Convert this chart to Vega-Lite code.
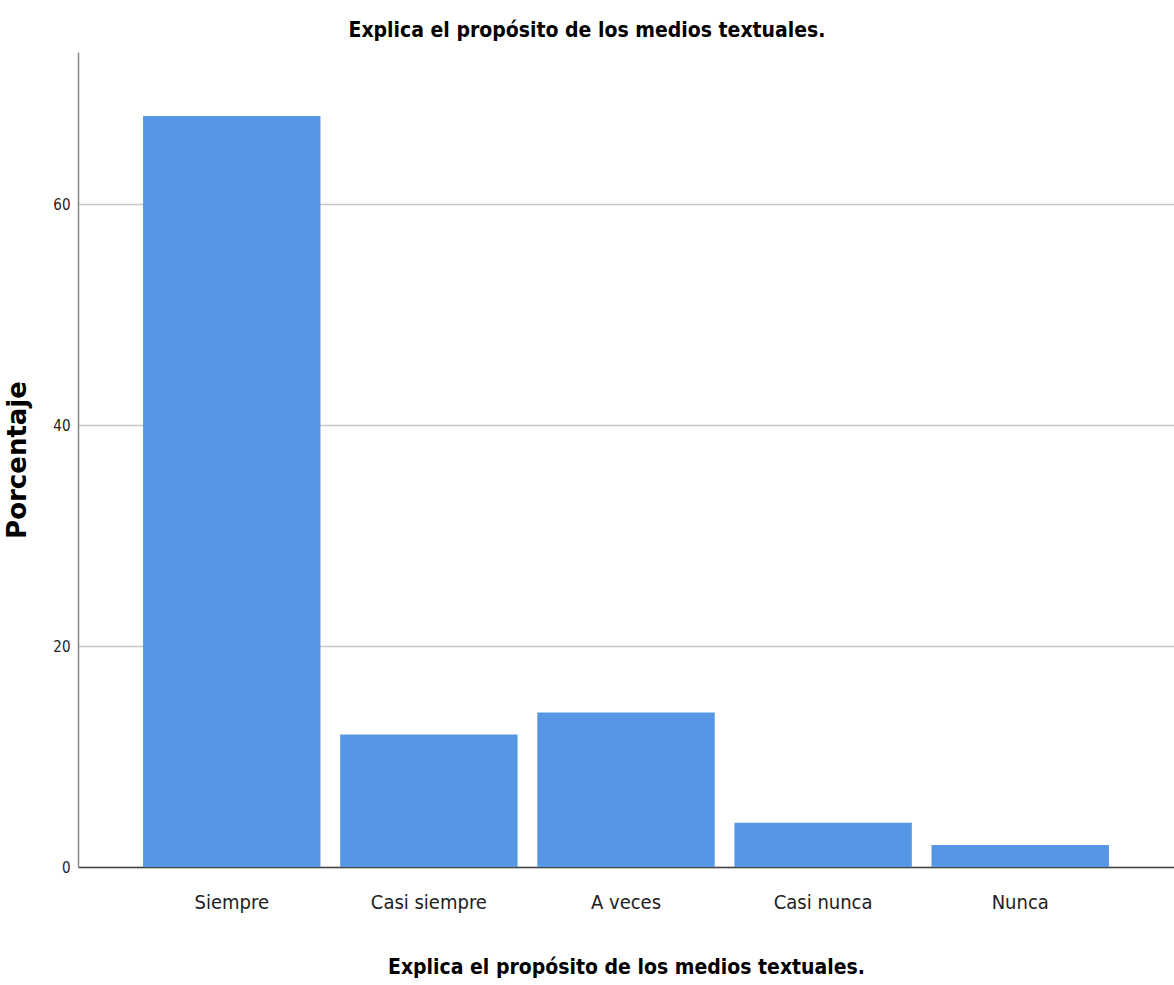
{
  "$schema": "https://vega.github.io/schema/vega-lite/v6.json",
  "width": 1096,
  "height": 815,
  "autosize": {"type": "none"},
  "padding": {"left": 78, "top": 52, "right": 0, "bottom": 118},
  "background": "white",
  "title": {
    "text": "Explica el propósito de los medios textuales.",
    "font": "DejaVu Sans Condensed",
    "fontSize": 21,
    "fontWeight": "bold",
    "color": "#000000",
    "anchor": "middle",
    "dx": -39,
    "offset": 11
  },
  "data": {
    "values": [
      {"categoria": "Siempre", "porcentaje": 68},
      {"categoria": "Casi siempre", "porcentaje": 12},
      {"categoria": "A veces", "porcentaje": 14},
      {"categoria": "Casi nunca", "porcentaje": 4},
      {"categoria": "Nunca", "porcentaje": 2}
    ]
  },
  "mark": {"type": "bar", "color": "#5597e4"},
  "encoding": {
    "x": {
      "field": "categoria",
      "type": "nominal",
      "sort": null,
      "scale": {"paddingInner": 0.1, "paddingOuter": 0.33},
      "axis": {
        "title": "Explica el propósito de los medios textuales.",
        "titleFont": "DejaVu Sans Condensed",
        "titleFontSize": 21,
        "titleFontWeight": "bold",
        "titleColor": "#000000",
        "titlePadding": 44,
        "labelFont": "DejaVu Sans Condensed",
        "labelFontSize": 20,
        "labelColor": "#222222",
        "labelAngle": 0,
        "labelPadding": 25,
        "ticks": false,
        "domainColor": "#444444",
        "domainWidth": 1.5,
        "grid": false
      }
    },
    "y": {
      "field": "porcentaje",
      "type": "quantitative",
      "scale": {"domain": [0, 73.8], "nice": false},
      "axis": {
        "title": "Porcentaje",
        "titleFont": "DejaVu Sans",
        "titleFontSize": 26,
        "titleFontWeight": "bold",
        "titleColor": "#000000",
        "titlePadding": 22,
        "values": [0, 20, 40, 60],
        "labelFont": "DejaVu Sans Condensed",
        "labelFontSize": 15,
        "labelColor": "#222222",
        "labelPadding": 8,
        "ticks": false,
        "domainColor": "#888888",
        "domainWidth": 1.5,
        "grid": true,
        "gridColor": "#c8c8c8",
        "gridWidth": 1.5
      }
    }
  },
  "config": {"view": {"stroke": null}}
}
